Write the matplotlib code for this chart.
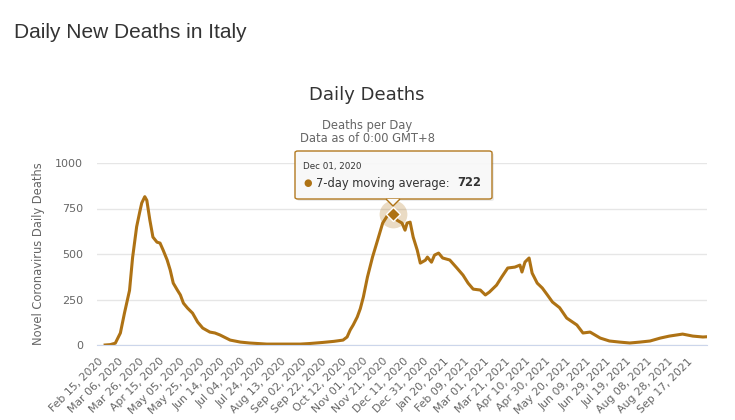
import numpy as np
import matplotlib
matplotlib.use("Agg")
import matplotlib.pyplot as plt
from matplotlib.patches import FancyBboxPatch, Polygon

# days after Feb 15, 2020 and 7-day average of daily deaths
day = [7, 12, 17, 22, 26, 31, 34, 38, 41, 43, 46, 48, 51, 54, 58, 61, 64, 68,
       71, 74, 78, 81, 84, 88, 93, 98, 103, 110, 115, 120, 130, 140, 149, 166,
       182, 199, 208, 221, 232, 241, 245, 248, 251, 255, 258, 261, 265, 270,
       275, 280, 285, 290, 294, 299, 302, 304, 307, 310, 314, 317, 322, 324,
       328, 331, 335, 339, 346, 353, 359, 364, 369, 376, 381, 385, 392, 397,
       403, 410, 415, 417, 420, 424, 427, 432, 437, 442, 447, 454, 461, 471,
       477, 484, 494, 503, 513, 523, 533, 543, 553, 562, 575, 585, 595, 598]
deaths = [0, 2, 10, 66, 175, 300, 480, 650, 730, 780, 815, 795, 686, 593, 565,
          560, 522, 467, 412, 340, 302, 275, 230, 203, 175, 126, 93, 71, 66,
          55, 27, 16, 11, 5, 5, 5, 8, 14, 20, 27, 44, 82, 110, 154, 200, 264,
          373, 483, 576, 670, 714, 722, 686, 670, 631, 670, 675, 593, 521, 450,
          466, 483, 455, 494, 505, 478, 467, 423, 384, 340, 307, 302, 275, 291,
          329, 373, 423, 428, 439, 401, 456, 478, 395, 340, 313, 275, 236, 205,
          148, 110, 66, 71, 38, 22, 16, 11, 16, 22, 38, 49, 60, 49, 44, 45]

tick_labels = ["Feb 15, 2020", "Mar 06, 2020", "Mar 26, 2020", "Apr 15, 2020",
               "May 05, 2020", "May 25, 2020", "Jun 14, 2020", "Jul 04, 2020",
               "Jul 24, 2020", "Aug 13, 2020", "Sep 02, 2020", "Sep 22, 2020",
               "Oct 12, 2020", "Nov 01, 2020", "Nov 21, 2020", "Dec 11, 2020",
               "Dec 31, 2020", "Jan 20, 2021", "Feb 09, 2021", "Mar 01, 2021",
               "Mar 21, 2021", "Apr 10, 2021", "Apr 30, 2021", "May 20, 2021",
               "Jun 09, 2021", "Jun 29, 2021", "Jul 19, 2021", "Aug 08, 2021",
               "Aug 28, 2021", "Sep 17, 2021"]
y_ticks = [0, 250, 500, 750, 1000]

hover_day = 290
hover_label = "Dec 01, 2020"
hover_value = 722

line_color = "#ae7214"
W, H = 735, 420

fig = plt.figure(figsize=(W / 100, H / 100), dpi=100)
ax = fig.add_axes([97 / W, 1 - 345 / H, 610 / W, 182 / H])

ax.plot(day, deaths, color=line_color, lw=2.2, solid_joinstyle="round")
ax.set_xlim(-1, 599)
ax.set_ylim(0, 1000)

# hover marker with halo
ax.plot([hover_day], [hover_value], "o", ms=20, color=line_color, alpha=0.25,
        mec="none")
ax.plot([hover_day], [hover_value], "D", ms=7, color=line_color, mec="white",
        mew=1)

ax.set_yticks(y_ticks)
ax.set_yticklabels([str(v) for v in y_ticks])
ax.set_xticks(np.arange(len(tick_labels)) * 20)
ax.set_xticklabels(tick_labels, rotation=45, ha="right",
                   rotation_mode="anchor")
ax.tick_params(axis="x", length=0, pad=8, labelsize=7.8, colors="#666666")
ax.tick_params(axis="y", length=0, pad=10, labelsize=8, colors="#666666")
ax.grid(axis="y", color="#e6e6e6", lw=1)
ax.set_axisbelow(True)
for s in ["top", "right", "left"]:
    ax.spines[s].set_visible(False)
ax.spines["bottom"].set_color("#ccd6eb")
ax.set_ylabel("Novel Coronavirus Daily Deaths", fontsize=8.3, color="#666666")
ax.yaxis.set_label_coords(-52 / 610, 0.5)

fig.text(14 / W, 1 - 32 / H, "Daily New Deaths in Italy", fontsize=15,
         family="Liberation Sans", color="#333333", va="center")
fig.text(367 / W, 1 - 95 / H, "Daily Deaths", fontsize=13, color="#333333",
         ha="center", va="center")
fig.text(367 / W, 1 - 125 / H, "Deaths per Day", fontsize=8.3,
         color="#666666", ha="center", va="center")
fig.text(367 / W, 1 - 139 / H, "Data as of 0:00 GMT+8", fontsize=8.3,
         color="#666666", ha="center", va="center")

# tooltip
def fx(px):
    return px / W


def fy(py):
    return 1 - py / H


shadow = FancyBboxPatch((fx(297), fy(201)), fx(492) - fx(295),
                        fy(152) - fy(200), boxstyle="round,pad=0,rounding_size=0.004",
                        transform=fig.transFigure, fc="#000000", alpha=0.08,
                        ec="none")
fig.patches.append(shadow)
box = FancyBboxPatch((fx(295), fy(199)), fx(492) - fx(295),
                     fy(151) - fy(199), boxstyle="round,pad=0,rounding_size=0.004",
                     transform=fig.transFigure, fc="#f9f9f9", alpha=0.95,
                     ec=line_color, lw=1)
fig.patches.append(box)
notch = Polygon([(fx(386), fy(199)), (fx(393), fy(206)), (fx(400), fy(199))],
                closed=False, transform=fig.transFigure, fc="#f9f9f9",
                ec=line_color, lw=1)
fig.patches.append(notch)
fig.text(fx(303), fy(167), hover_label, fontsize=6.3, color="#333333",
         va="center")
fig.text(fx(303), fy(183), "\u25cf", fontsize=7, color=line_color,
         va="center")
fig.text(fx(316), fy(183), "7-day moving average: ", fontsize=8.3,
         color="#333333", va="center")
fig.text(fx(457), fy(183), str(hover_value), fontsize=8.3, color="#333333",
         va="center", weight="bold")

fig.savefig("out.png", dpi=100)
